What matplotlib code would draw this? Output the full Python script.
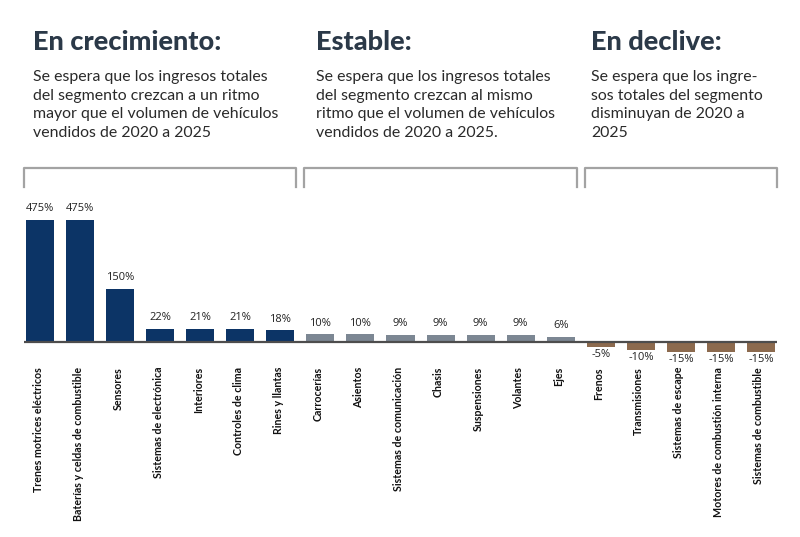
import numpy as np
import matplotlib.pyplot as plt
from matplotlib.lines import Line2D
import matplotlib.transforms as mtransforms

# Datos
cats_grow = ["Trenes motrices eléctricos", "Baterías y celdas de combustible", "Sensores",
             "Sistemas de electrónica", "Interiores", "Controles de clima", "Rines y llantas"]
vals_grow = [475, 475, 150, 22, 21, 21, 18]

cats_stable = ["Carrocerías", "Asientos", "Sistemas de comunicación", "Chasis",
               "Suspensiones", "Volantes", "Ejes"]
vals_stable = [10, 10, 9, 9, 9, 9, 6]

cats_decline = ["Frenos", "Transmisiones", "Sistemas de escape",
                "Motores de combustión interna", "Sistemas de combustible"]
vals_decline = [-5, -10, -15, -15, -15]

titles = ["En crecimiento:", "Estable:", "En declive:"]
descs = [
    "Se espera que los ingresos totales\ndel segmento crezcan a un ritmo\nmayor que el volumen de vehículos\nvendidos de 2020 a 2025",
    "Se espera que los ingresos totales\ndel segmento crezcan al mismo\nritmo que el volumen de vehículos\nvendidos de 2020 a 2025.",
    "Se espera que los ingre-\nsos totales del segmento\ndisminuyan de 2020 a\n2025",
]

groups = [(cats_grow, vals_grow, "#0c3466"),
          (cats_stable, vals_stable, "#7c8793"),
          (cats_decline, vals_decline, "#8c6a4e")]

# escala no lineal (las barras del original no son proporcionales)
p = 0.72
fwd = lambda y: np.sign(y) * np.abs(y) ** p
inv = lambda y: np.sign(y) * np.abs(y) ** (1 / p)

W, H = 800, 537
fig = plt.figure(figsize=(W / 100, H / 100), dpi=100)
fig.set_facecolor("white")

ax_top, ax_base, ax_bot = 220, 342, 352
ax = fig.add_axes([24 / W, 1 - ax_bot / H, (777 - 24) / W, (ax_bot - ax_top) / H])
ax.set_yscale("function", functions=(fwd, inv))
top_val = max(vals_grow)
T = fwd(top_val)
ax.set_ylim(-inv(T * (ax_bot - ax_base) / (ax_base - ax_top)), top_val)
ax.set_xlim(-0.4, 18.4)
ax.axis("off")

label_font = ["Lato", "DejaVu Sans"]
start = 0
spans = []
for cats, vals, col in groups:
    xs = np.arange(start, start + len(cats))
    ax.bar(xs, vals, width=0.7, color=col, zorder=2)
    for x, v, c in zip(xs, vals, cats):
        off = 8 if v > 0 else -5.5
        ax.annotate(f"{v}%", (x, v), xytext=(0, off), textcoords="offset points",
                    ha="center", va="center", fontsize=8, color="#222222",
                    family=["Open Sans", "DejaVu Sans"], annotation_clip=False)
        tr = mtransforms.offset_copy(ax.transData, fig=fig, x=-2, y=-25, units="dots")
        ax.text(x, 0, c, rotation=90, ha="center", va="top", fontsize=7.7,
                fontweight="bold", color="#111111", family=label_font,
                transform=tr, clip_on=False)
    spans.append((start - 0.4, start + len(cats) - 1 + 0.4))
    start += len(cats)

ax.axhline(0, color="#4d4d4d", lw=1.6, zorder=3)

# corchetes de grupo
btr = mtransforms.blended_transform_factory(ax.transData, fig.transFigure)
y_hi, y_lo = 1 - 168 / H, 1 - 187 / H
for x0, x1 in spans:
    fig.add_artist(Line2D([x0, x0, x1, x1], [y_lo, y_hi, y_hi, y_lo],
                          transform=btr, color="#a3a3a3", lw=1.6))

# titulos y textos
title_x = [33, 316, 591]
for tx, t, d in zip(title_x, titles, descs):
    fig.text(tx / W, 1 - 30 / H, t, ha="left", va="top", fontsize=19.5,
             fontweight="black", color="#2b3948", family=["Lato", "DejaVu Sans"])
    fig.text(tx / W, 1 - 70 / H, d, ha="left", va="top", fontsize=11.4,
             color="#2a2a2a", linespacing=1.43, family=["Lato", "DejaVu Sans"])

fig.savefig("out.png", dpi=100, facecolor="white")
